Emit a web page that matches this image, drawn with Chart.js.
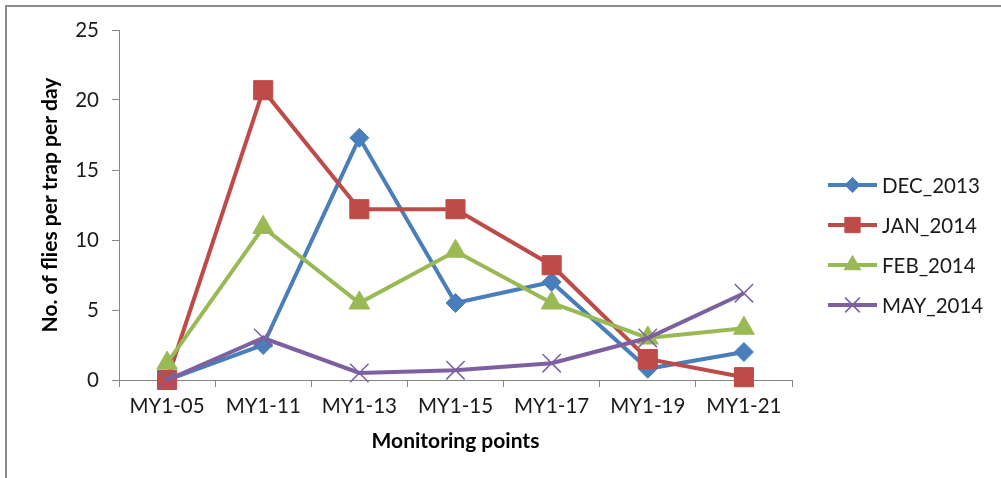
<!DOCTYPE html>
<html>
<head>
<meta charset="utf-8">
<script src="https://cdn.jsdelivr.net/npm/chart.js@4.4.1/dist/chart.umd.min.js"></script>
<style>
  html, body { margin: 0; padding: 0; background: #ffffff; }
  #wrap { position: relative; width: 1001px; height: 478px; overflow: hidden; }
  #frame { position: absolute; left: 5px; top: 5px; width: 1200px; height: 600px;
           border-top: 2px solid #8c8c8c; border-left: 2px solid #8c8c8c; pointer-events: none; }
  canvas { position: absolute; left: 0; top: 0; }
</style>
</head>
<body>
<div id="wrap">
  <canvas id="c" width="1001" height="478"></canvas>
  <div id="frame"></div>
</div>
<script>
const categories = ['MY1-05', 'MY1-11', 'MY1-13', 'MY1-15', 'MY1-17', 'MY1-19', 'MY1-21'];
const seriesNames = ['DEC_2013', 'JAN_2014', 'FEB_2014', 'MAY_2014'];
const dec2013 = [0, 2.5, 17.3, 5.5, 7.0, 0.8, 2.0];
const jan2014 = [0, 20.7, 12.2, 12.2, 8.2, 1.5, 0.2];
const feb2014 = [1.2, 10.9, 5.5, 9.2, 5.5, 3.0, 3.7];
const may2014 = [0, 3.0, 0.5, 0.7, 1.2, 3.0, 6.2];
const yTicks = [0, 5, 10, 15, 20, 25];

const colors = ['#4a7ebb', '#be4b48', '#98b954', '#7d60a0'];
const styles = [
  { pointStyle: 'rectRot', radius: 9.5 },
  { pointStyle: 'rect', radius: 13.5 },
  { pointStyle: 'triangle', radius: 12 },
  { pointStyle: 'crossRot', radius: 13 }
];
const seriesValues = [dec2013, jan2014, feb2014, may2014];

const datasets = seriesNames.map((name, i) => ({
  label: name,
  data: seriesValues[i],
  borderColor: colors[i],
  backgroundColor: colors[i],
  borderWidth: 4,
  pointStyle: styles[i].pointStyle,
  pointRadius: styles[i].radius,
  pointBorderWidth: styles[i].pointStyle === 'crossRot' ? 1.5 : 1,
  pointBackgroundColor: colors[i],
  pointBorderColor: colors[i],
  tension: 0,
  order: seriesNames.length - 1 - i,
  clip: false
}));

const legendPlugin = {
  id: 'customLegend',
  afterDraw(chart) {
    const ctx = chart.ctx;
    const x0 = 828, x1 = 877, tx = 882;
    const ys = [185, 225, 265, 305];
    chart.data.datasets.forEach((ds, i) => {
      const y = ys[i];
      ctx.save();
      ctx.strokeStyle = ds.borderColor;
      ctx.lineWidth = 4;
      ctx.lineCap = 'butt';
      ctx.beginPath();
      ctx.moveTo(x0, y);
      ctx.lineTo(x1, y);
      ctx.stroke();
      ctx.fillStyle = ds.backgroundColor;
      ctx.strokeStyle = ds.borderColor;
      ctx.lineWidth = ds.pointBorderWidth;
      Chart.helpers.drawPoint(ctx, {
        pointStyle: ds.pointStyle,
        radius: ds.pointRadius * 0.8,
        rotation: 0,
        borderWidth: ds.pointBorderWidth
      }, (x0 + x1) / 2, y);
      ctx.fillStyle = '#1a1a1a';
      ctx.font = '20.5px Lato';
      ctx.textAlign = 'left';
      ctx.textBaseline = 'middle';
      ctx.fillText(ds.label, tx, y + 1);
      ctx.restore();
    });
  }
};

new Chart(document.getElementById('c'), {
  type: 'line',
  data: { labels: categories, datasets: datasets },
  options: {
    responsive: false,
    animation: false,
    devicePixelRatio: 1,
    layout: { padding: { left: 0, top: 30, right: 209, bottom: 0 } },
    plugins: { legend: { display: false }, tooltip: { enabled: false } },
    scales: {
      x: {
        type: 'category',
        offset: true,
        grid: { display: true, drawOnChartArea: false, drawTicks: true, tickLength: 7, offset: true, color: '#868686' },
        border: { display: true, color: '#868686', width: 1 },
        ticks: { color: '#1a1a1a', font: { family: 'Lato', size: 20.5 }, padding: 7, maxRotation: 0, autoSkip: false },
        title: { display: true, text: 'Monitoring points', color: '#000000',
                 font: { family: 'Lato', size: 21, weight: 'bold' }, padding: { top: 0, bottom: 24 } },
        afterFit(scale) { scale.height = 98; }
      },
      y: {
        min: 0, max: 25,
        afterBuildTicks(scale) { scale.ticks = yTicks.map(v => ({ value: v })); },
        grid: { display: true, drawOnChartArea: false, drawTicks: true, tickLength: 7, color: '#868686' },
        border: { display: true, color: '#868686', width: 1 },
        ticks: { color: '#1a1a1a', font: { family: 'Lato', size: 20.5 }, padding: 13 },
        title: { display: true, text: 'No. of flies per trap per day', color: '#000000',
                 font: { family: 'Lato', size: 21, weight: 'bold' }, padding: { top: 38, bottom: 0 } },
        afterFit(scale) { scale.width = 119; }
      }
    }
  },
  plugins: [legendPlugin]
});
</script>
</body>
</html>
